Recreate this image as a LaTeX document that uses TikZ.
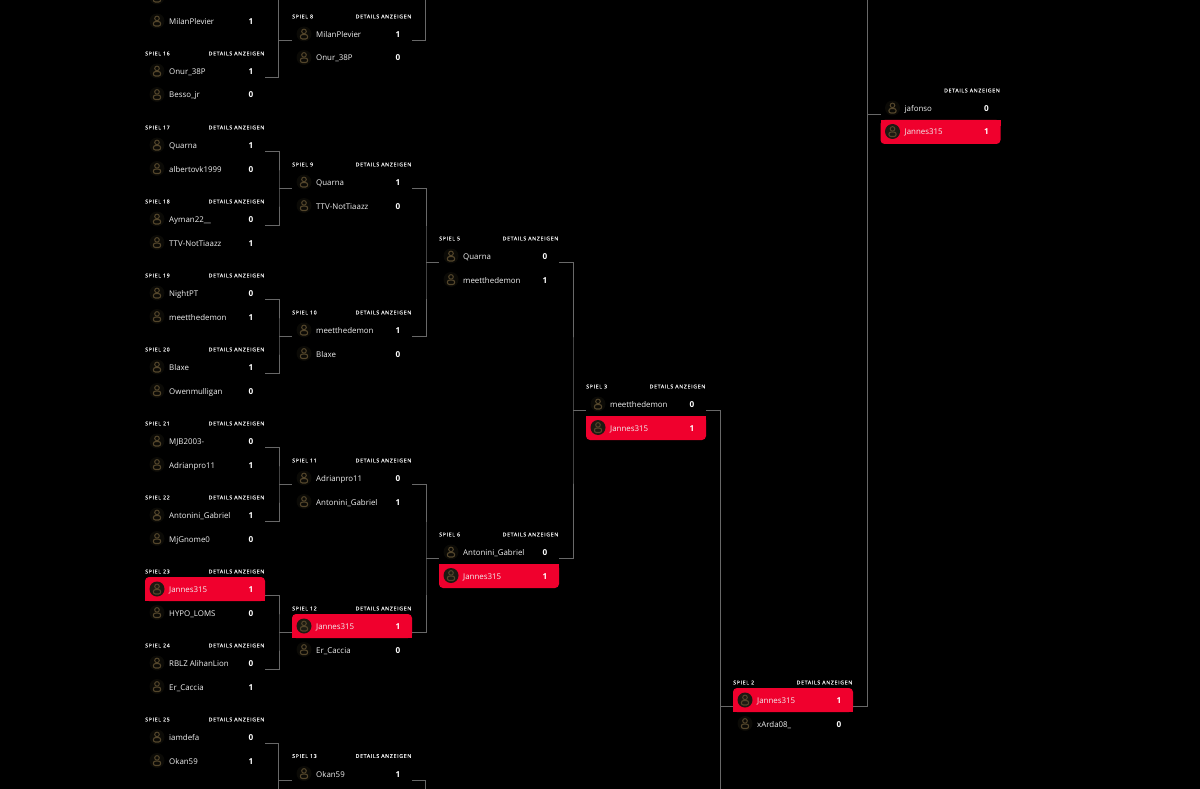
\documentclass[tikz,border=0pt]{standalone}
\usepackage{fontspec}
\setmainfont{Open Sans}
\newfontfamily\hdrfont[LetterSpace=12,FakeBold=0.06]{Open Sans}
\definecolor{winred}{HTML}{F0002D}
\definecolor{iconc}{HTML}{54462B}
\definecolor{iconbg}{HTML}{0B0A06}
\definecolor{winbg}{HTML}{1C1A12}
\definecolor{linec}{HTML}{686868}
\definecolor{namec}{HTML}{F0F0F0}
\tikzset{
  x=1pt,y=-1pt,
  mbox/.style={minimum width=120pt,minimum height=60pt,inner sep=0pt,outer sep=0pt},
  conn/.style={draw=linec,line width=.9pt},
  hdr/.style={font=\hdrfont\fontsize{5.3}{6}\selectfont,text=namec,inner sep=0pt},
  pname/.style={font=\fontsize{7.9}{10}\selectfont,text=namec,anchor=base west,inner sep=0pt},
  pscore/.style={font=\bfseries\fontsize{8.2}{10}\selectfont,text=white,anchor=base,inner sep=0pt},
}
% #1 x, #2 y, #3 background
\newcommand{\usericon}[3]{%
  \fill[#3] (#1,#2) circle (7.5);
  \draw[iconc,line width=1pt] (#1,#2-2.6) circle (2.3);
  \draw[iconc,line width=1.1pt,rounded corners=2pt] (#1-3.6,#2+5) -- (#1-3.6,#2+.6) -- (#1+3.6,#2+.6) -- (#1+3.6,#2+5) -- cycle;
}
\newcommand{\prow}[4]{%
  \usericon{#1+12}{#2}{#4}%
  \node[pname] at (#1+24,#2+3.5) {#3};
}
% #1 id, #2 x, #3 y of first row, #4 label, #5 name1, #6 score1, #7 name2, #8 score2, #9 winner row
\newcommand{\matchbox}[9]{%
  \node[mbox] (m#1) at (#2+60,#3+6.5) {};
  \node[hdr,anchor=base west] at (#2,#3-15.6) {#4};
  \node[hdr,anchor=base east] at (#2+119.5,#3-15.6) {DETAILS ANZEIGEN};
  \ifnum#9=1
    \fill[winred,rounded corners=4pt] (#2,#3+12) -- (#2,#3-12) -- (#2+120,#3-12) -- (#2+120,#3+12) -- cycle;
    \fill[winred] (#2,#3+6) rectangle (#2+120,#3+12);
  \fi
  \ifnum#9=2
    \fill[winred,rounded corners=4pt] (#2,#3+12) -- (#2,#3+36) -- (#2+120,#3+36) -- (#2+120,#3+12) -- cycle;
    \fill[winred] (#2,#3+12) rectangle (#2+120,#3+18);
  \fi
  \ifnum#9=1 \prow{#2}{#3}{#5}{winbg}\else \prow{#2}{#3}{#5}{iconbg}\fi
  \node[pscore] at (#2+106,#3+3.5) {#6};
  \ifnum#9=2 \prow{#2}{#3+23.5}{#7}{winbg}\else \prow{#2}{#3+23.5}{#7}{iconbg}\fi
  \node[pscore] at (#2+106,#3+27) {#8};
}
\newcommand{\joinpair}[3]{%
  \draw[conn] (m#1.east) -| ([xshift=-13pt]m#3.west) |- (m#2.east);
  \draw[conn] ([xshift=-13pt]m#3.west) -- (m#3.west);
}
\begin{document}
\begin{tikzpicture}
\useasboundingbox (0,0) rectangle (1200,789);
\fill[black] (0,0) rectangle (1200,789);
\clip (0,0) rectangle (1200,789);
% column 1: the match cut off by the top edge
\usericon{157}{-3}{iconbg}
\usericon{157}{21}{iconbg}
\node[pname] (m15b) at (169,24.5) {MilanPlevier};
\node[pscore] (m15s) at (251,24.5) {1};
\matchbox{16}{145}{71}{SPIEL 16}{Onur\_38P}{1}{Besso\_jr}{0}{0}
\matchbox{17}{145}{145}{SPIEL 17}{Quarna}{1}{albertovk1999}{0}{0}
\matchbox{18}{145}{219}{SPIEL 18}{Ayman22\_\_}{0}{TTV-NotTiaazz}{1}{0}
\matchbox{19}{145}{293}{SPIEL 19}{NightPT}{0}{meetthedemon}{1}{0}
\matchbox{20}{145}{367}{SPIEL 20}{Blaxe}{1}{Owenmulligan}{0}{0}
\matchbox{21}{145}{441}{SPIEL 21}{MJB2003-}{0}{Adrianpro11}{1}{0}
\matchbox{22}{145}{515}{SPIEL 22}{Antonini\_Gabriel}{1}{MjGnome0}{0}{0}
\matchbox{23}{145}{589}{SPIEL 23}{Jannes315}{1}{HYPO\_LOMS}{0}{1}
\matchbox{24}{145}{663}{SPIEL 24}{RBLZ AlihanLion}{0}{Er\_Caccia}{1}{0}
\matchbox{25}{145}{737}{SPIEL 25}{iamdefa}{0}{Okan59}{1}{0}
% column 2
\matchbox{8}{292}{34}{SPIEL 8}{MilanPlevier}{1}{Onur\_38P}{0}{0}
\matchbox{9}{292}{182}{SPIEL 9}{Quarna}{1}{TTV-NotTiaazz}{0}{0}
\matchbox{10}{292}{330}{SPIEL 10}{meetthedemon}{1}{Blaxe}{0}{0}
\matchbox{11}{292}{478}{SPIEL 11}{Adrianpro11}{0}{Antonini\_Gabriel}{1}{0}
\matchbox{12}{292}{626}{SPIEL 12}{Jannes315}{1}{Er\_Caccia}{0}{1}
\matchbox{13}{292}{773.5}{SPIEL 13}{Okan59}{1}{}{}{0}
% column 3
\matchbox{5}{439}{256}{SPIEL 5}{Quarna}{0}{meetthedemon}{1}{0}
\matchbox{6}{439}{552}{SPIEL 6}{Antonini\_Gabriel}{0}{Jannes315}{1}{2}
% column 4
\matchbox{3}{586}{404}{SPIEL 3}{meetthedemon}{0}{Jannes315}{1}{2}
% column 5
\matchbox{2}{733}{700}{SPIEL 2}{Jannes315}{1}{xArda08\_}{0}{1}
% column 6
\matchbox{1}{880.5}{108}{}{jafonso}{0}{Jannes315}{1}{2}
% free ends outside the picture
\coordinate (topa) at (278.5,-10);
\coordinate (topb) at (425.5,-10);
\coordinate (topc) at (867,-10);
\coordinate (bota) at (278.5,800);
\coordinate (botb) at (425.5,800);
\coordinate (botc) at (720,800);
% connectors
\draw[conn] (m16.east) -| (topa);
\draw[conn] (m8.west) -- ([xshift=-13pt]m8.west);
\joinpair{17}{18}{9}
\joinpair{19}{20}{10}
\joinpair{21}{22}{11}
\joinpair{23}{24}{12}
\draw[conn] (m25.east) -| (bota);
\draw[conn] (m13.west) -- ([xshift=-13pt]m13.west);
\draw[conn] (m8.east) -| (topb);
\joinpair{9}{10}{5}
\joinpair{11}{12}{6}
\draw[conn] (m13.east) -| (botb);
\joinpair{5}{6}{3}
\draw[conn] (m3.east) -| (botc);
\draw[conn] (m2.west) -- ([xshift=-13pt]m2.west);
\draw[conn] (m2.east) -| (topc);
\draw[conn] (m1.west) -- ([xshift=-13pt]m1.west);
\end{tikzpicture}
\end{document}
